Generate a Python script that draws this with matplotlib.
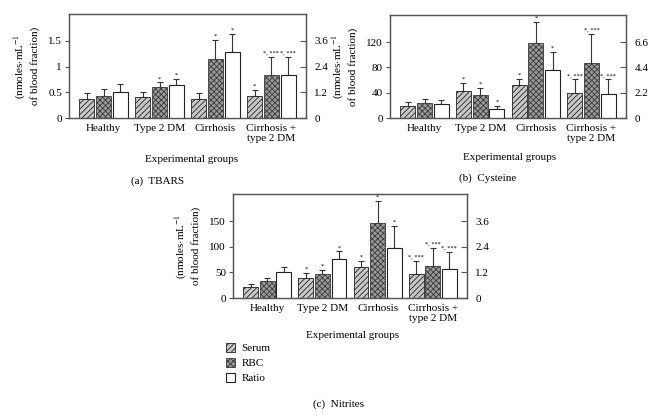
import numpy as np
import matplotlib
matplotlib.use("Agg")
import matplotlib.pyplot as plt
from matplotlib.patches import Patch

plt.rcParams['font.family'] = ['Liberation Serif', 'DejaVu Serif']
plt.rcParams['mathtext.fontset'] = 'stix'
plt.rcParams['hatch.linewidth'] = 0.6

groups = ['Healthy', 'Type 2 DM', 'Cirrhosis', 'Cirrhosis +\ntype 2 DM']

# (a) TBARS
tb_serum = [0.37, 0.41, 0.37, 0.42]
tb_serum_err = [0.11, 0.10, 0.11, 0.12]
tb_rbc = [0.43, 0.60, 1.14, 0.83]
tb_rbc_err = [0.13, 0.09, 0.37, 0.36]
tb_ratio = [1.22, 1.53, 3.07, 1.99]
tb_ratio_err = [0.38, 0.31, 0.84, 0.86]
tb_marks = [['', '', '', '*'], ['', '*', '*', '*, ***'], ['', '*', '*', '*, ***']]

# (b) Cysteine
cy_serum = [19, 43, 53, 39]
cy_serum_err = [6, 12, 9, 22]
cy_rbc = [23, 37, 119, 87]
cy_rbc_err = [7, 10, 33, 46]
cy_ratio = [1.2, 0.81, 4.2, 2.1]
cy_ratio_err = [0.34, 0.23, 1.56, 1.26]
cy_marks = [['', '*', '*', '*, ***'], ['', '*', '*', '*, ***'], ['', '*', '*', '*, ***']]

# (c) Nitrites
ni_serum = [22, 39, 61, 46]
ni_serum_err = [5, 10, 12, 27]
ni_rbc = [33, 47, 146, 63]
ni_rbc_err = [7, 7, 43, 35]
ni_ratio = [1.24, 1.83, 2.35, 1.37]
ni_ratio_err = [0.22, 0.35, 1.01, 0.79]
ni_marks = [['', '*', '*', '*, ***'], ['', '*', '*', '*, ***'], ['', '*', '*', '*, ***']]

spine_col = '#555555'
ylab = '(nmoles$\\cdot$mL$^{-1}$\nof blood fraction)'


def panel(rect, serum, serum_err, rbc, rbc_err, ratio, ratio_err, marks,
          ylim, lticks, lticklabels, rlim, rticks, rticklabels):
    ax = fig.add_axes(rect)
    ax2 = ax.twinx()
    x = np.arange(len(groups))
    w = 0.27
    off = 0.30
    ax.bar(x - off, serum, w, facecolor='#c8c8c8', edgecolor='#222222',
           hatch='//////', linewidth=0.6, zorder=2)
    ax.bar(x, rbc, w, facecolor='#9a9a9a', edgecolor='#3a3a3a',
           hatch='xxxxxx', linewidth=0.6, zorder=2)
    ax2.bar(x + off, ratio, w, facecolor='white', edgecolor='#222222',
            linewidth=0.8, zorder=2)
    ek = dict(fmt='none', ecolor='#333333', elinewidth=0.8, capsize=2.5,
              capthick=0.8, zorder=1)
    ax.errorbar(x - off, serum, yerr=[np.zeros(4), serum_err], **ek)
    ax.errorbar(x, rbc, yerr=[np.zeros(4), rbc_err], **ek)
    ax2.errorbar(x + off, ratio, yerr=[np.zeros(4), ratio_err], **ek)
    tops = [np.add(serum, serum_err), np.add(rbc, rbc_err)]
    for k, (t, dx) in enumerate(zip(tops, [-off, 0])):
        for i in range(4):
            if marks[k][i]:
                ax.text(x[i] + dx, t[i] + ylim * 0.012, marks[k][i],
                        ha='center', va='bottom', fontsize=4.5)
    rt = np.add(ratio, ratio_err)
    for i in range(4):
        if marks[2][i]:
            ax2.text(x[i] + off, rt[i] + rlim * 0.012, marks[2][i],
                     ha='center', va='bottom', fontsize=4.5)
    ax.set_xlim(-0.62, 3.62)
    ax.set_ylim(0, ylim)
    ax2.set_ylim(0, rlim)
    ax.set_xticks(x)
    ax.set_xticklabels(groups, fontsize=8, linespacing=1.15)
    ax.tick_params(axis='x', length=0, pad=4)
    ax.set_yticks(lticks)
    ax.set_yticklabels(lticklabels, fontsize=8)
    ax.tick_params(axis='y', direction='out', length=3, width=0.8,
                   color=spine_col, pad=2)
    ax2.set_yticks(rticks)
    ax2.set_yticklabels(rticklabels, fontsize=8)
    ax2.tick_params(axis='y', direction='in', length=4, width=0.8,
                    color=spine_col, pad=6)
    for a in (ax, ax2):
        for s in a.spines.values():
            s.set_color(spine_col)
            s.set_linewidth(0.9)
    ax.set_ylabel(ylab, fontsize=8, labelpad=6, linespacing=1.25)
    return ax, ax2


fig = plt.figure(figsize=(6.71, 4.16), dpi=100)

panel([69 / 671, 1 - 118 / 416, 237 / 671, 104 / 416],
      tb_serum, tb_serum_err, tb_rbc, tb_rbc_err, tb_ratio, tb_ratio_err,
      tb_marks, 2.02, [0, 0.5, 1, 1.5], ['0', '0.5', '1', '1.5'],
      2.02 * 2.4, [0, 1.2, 2.4, 3.6], ['0', '1.2', '2.4', '3.6'])

panel([390 / 671, 1 - 118 / 416, 236 / 671, 103 / 416],
      cy_serum, cy_serum_err, cy_rbc, cy_rbc_err, cy_ratio, cy_ratio_err,
      cy_marks, 163, [0, 40, 80, 120], ['0', '40', '80', '120'],
      163 * 0.055, [0, 2.2, 4.4, 6.6], ['0', '2.2', '4.4', '6.6'])

panel([233 / 671, 1 - 298 / 416, 234 / 671, 104 / 416],
      ni_serum, ni_serum_err, ni_rbc, ni_rbc_err, ni_ratio, ni_ratio_err,
      ni_marks, 203, [0, 50, 100, 150], ['0', '50', '100', '150'],
      203 * 0.024, [0, 1.2, 2.4, 3.6], ['0', '1.2', '2.4', '3.6'])

# axis titles and captions
fig.text(192 / 671, 1 - 159 / 416, 'Experimental groups', ha='center', va='center', fontsize=8)
fig.text(158 / 671, 1 - 181 / 416, '(a)  TBARS', ha='center', va='center', fontsize=8)
fig.text(510 / 671, 1 - 157 / 416, 'Experimental groups', ha='center', va='center', fontsize=8)
fig.text(488 / 671, 1 - 178 / 416, '(b)  Cysteine', ha='center', va='center', fontsize=8)
fig.text(353 / 671, 1 - 336 / 416, 'Experimental groups', ha='center', va='center', fontsize=8)
fig.text(339 / 671, 1 - 404 / 416, '(c)  Nitrites', ha='center', va='center', fontsize=8)

handles = [Patch(facecolor='#c8c8c8', edgecolor='#222222', hatch='//////', linewidth=0.6),
           Patch(facecolor='#9a9a9a', edgecolor='#3a3a3a', hatch='xxxxxx', linewidth=0.6),
           Patch(facecolor='white', edgecolor='#222222', linewidth=0.8)]
fig.legend(handles, ['Serum', 'RBC', 'Ratio'], loc='upper left',
           bbox_to_anchor=(226 / 671, 1 - 343 / 416), frameon=False, fontsize=8,
           handlelength=0.8, handleheight=0.8, handletextpad=0.6, labelspacing=0.45,
           borderpad=0, borderaxespad=0)

fig.savefig('out.png', dpi=100)
